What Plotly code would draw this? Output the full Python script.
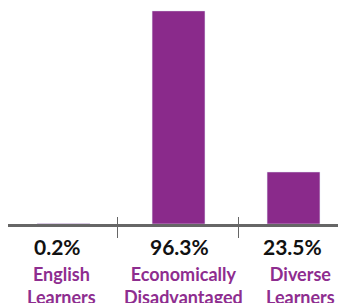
import plotly.graph_objects as go

categories = ["English<br>Learners", "Economically<br>Disadvantaged", "Diverse<br>Learners"]
values = [0.2, 96.3, 23.5]
value_labels = ["0.2%", "96.3%", "23.5%"]
divider_ticks = [0.471, 1.52]

xpos = list(range(len(categories)))
BAR = "#8A2A8B"
LABEL = "#8E2D8F"
FONT = "Lato"
XR = [-0.483, 2.526]

fig = go.Figure()
fig.add_trace(go.Bar(x=xpos, y=values, marker_color=BAR, width=0.46, hoverinfo="skip"))

shifts = [-6, 0.5, -1]
lshifts = [-2.5, 4.5, 6.5]
for i in xpos:
    fig.add_annotation(x=i, y=0, xref="x", yref="paper", text="<b>%s</b>" % value_labels[i],
                       showarrow=False, yanchor="top", yshift=-8, xshift=shifts[i],
                       font=dict(family=FONT, size=21, color="#111111"))
    fig.add_annotation(x=i, y=0, xref="x", yref="paper", text="<b>%s</b>" % categories[i],
                       showarrow=False, yanchor="top", yshift=-37, xshift=lshifts[i],
                       font=dict(family=FONT, size=18, color=LABEL))

fig.update_layout(
    width=346, height=303,
    margin=dict(l=0, r=0, t=0, b=87),
    paper_bgcolor="white", plot_bgcolor="white",
    showlegend=False,
    xaxis=dict(range=XR, showgrid=False, zeroline=False, automargin=False,
               showline=True, linecolor="#666666", linewidth=3,
               tickmode="array", tickvals=divider_ticks, ticktext=["", ""],
               ticks="outside", ticklen=11, tickwidth=1, tickcolor="#666666"),
    xaxis2=dict(overlaying="x", matches="x", anchor="y", side="bottom", automargin=False,
                range=XR, showgrid=False, zeroline=False, showline=False,
                tickmode="array", tickvals=divider_ticks, ticktext=["", ""],
                ticks="inside", ticklen=7, tickwidth=1, tickcolor="#666666"),
    yaxis=dict(range=[0, 97.6], visible=False, automargin=False),
)
fig.add_trace(go.Scatter(x=[], y=[], xaxis="x2", hoverinfo="skip"))
fig.write_html("out.html")
